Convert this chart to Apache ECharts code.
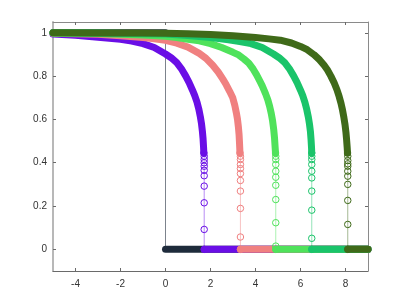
<!DOCTYPE html>
<html><head><meta charset="utf-8">
<script src="https://cdn.jsdelivr.net/npm/echarts@6/dist/echarts.min.js"></script>
<style>html,body{margin:0;padding:0;background:#fff}#c{width:407px;height:305px}</style>
</head><body><div id="c"></div>
<script>
// tick labels
const xTicks = [-4, -2, 0, 2, 4, 6, 8];
const yTicks = [0, 0.2, 0.4, 0.6, 0.8, 1];

// series colours (by name)
const seriesNames = ['step', 'purple', 'pink', 'lightgreen', 'green', 'darkgreen'];
const seriesColors = ['#1e2b3b', '#6a0ee6', '#f08080', '#4fe25b', '#1ac46a', '#3f6a19'];

// step series (1 for x<0, 0 for x>=0)
const stepX = [-5, 0];
const stepY = [1, 1];

// curve values
const purpleX = [-5, -4, -3, -2, -1.5, -1, -0.5, 0, 0.25, 0.5, 0.7, 0.9, 1.05, 1.2, 1.3, 1.4, 1.48, 1.55, 1.6, 1.64, 1.67, 1.69, 1.705];
const purpleY = [0.994, 0.989, 0.980, 0.970, 0.962, 0.950, 0.932, 0.902, 0.885, 0.862, 0.835, 0.800, 0.770, 0.735, 0.710, 0.680, 0.648, 0.612, 0.580, 0.545, 0.510, 0.475, 0.445];
const purpleDropY = [0.43, 0.415, 0.40, 0.384, 0.365, 0.34, 0.292, 0.215, 0.092, 0];

const pinkX = [-5, -4, -3, -2, -1, -0.5, 0, 0.5, 1.0, 1.5, 1.8, 2.1, 2.35, 2.55, 2.7, 2.85, 2.99, 3.08, 3.15, 3.2, 3.24, 3.27, 3.29, 3.31];
const pinkY = [0.998, 0.996, 0.993, 0.987, 0.978, 0.973, 0.965, 0.952, 0.934, 0.905, 0.882, 0.850, 0.818, 0.786, 0.760, 0.730, 0.700, 0.665, 0.630, 0.600, 0.565, 0.530, 0.490, 0.445];
const pinkDropY = [0.43, 0.415, 0.392, 0.373, 0.350, 0.318, 0.269, 0.189, 0.057, 0];

const lightGreenX = [-5, -3, -1, 0, 0.5, 1.0, 1.5, 2.0, 2.5, 3.0, 3.25, 3.5, 3.7, 3.9, 4.05, 4.2, 4.3, 4.45, 4.55, 4.63, 4.7, 4.76, 4.81, 4.845, 4.87, 4.89];
const lightGreenY = [0.999, 0.997, 0.990, 0.984, 0.978, 0.970, 0.963, 0.950, 0.932, 0.910, 0.898, 0.878, 0.860, 0.832, 0.806, 0.776, 0.755, 0.718, 0.690, 0.660, 0.628, 0.593, 0.553, 0.515, 0.475, 0.445];
const lightGreenDropY = [0.43, 0.415, 0.392, 0.361, 0.333, 0.296, 0.230, 0.123, 0.015, 0];

const greenX = [-5, -3, -1, 0, 1, 2, 2.8, 3.3, 3.8, 4.3, 4.8, 5.05, 5.3, 5.5, 5.7, 5.85, 6.0, 6.1, 6.2, 6.28, 6.35, 6.4, 6.44, 6.47, 6.49, 6.5];
const greenY = [1.0, 0.999, 0.996, 0.994, 0.988, 0.978, 0.968, 0.960, 0.950, 0.932, 0.902, 0.885, 0.862, 0.835, 0.800, 0.770, 0.735, 0.710, 0.678, 0.645, 0.610, 0.578, 0.545, 0.505, 0.470, 0.445];
const greenDropY = [0.43, 0.415, 0.392, 0.361, 0.330, 0.269, 0.181, 0.051, 0];

const darkGreenX = [-5, -3, -1, 0, 1, 2, 3, 4, 4.6, 5.1, 5.6, 6.0, 6.3, 6.6, 6.85, 7.05, 7.2, 7.35, 7.5, 7.62, 7.72, 7.8, 7.87, 7.93, 7.98, 8.02, 8.05, 8.075, 8.09];
const darkGreenY = [1.0, 0.9995, 0.999, 0.998, 0.996, 0.992, 0.986, 0.978, 0.972, 0.966, 0.953, 0.937, 0.922, 0.899, 0.875, 0.850, 0.828, 0.800, 0.768, 0.737, 0.705, 0.675, 0.642, 0.608, 0.575, 0.540, 0.505, 0.470, 0.445];
const darkGreenDropY = [0.43, 0.41, 0.395, 0.384, 0.361, 0.338, 0.30, 0.226, 0.115, 0];

// x where each series drops to zero, and where the zero plateau ends
const dropX = [0, 1.72, 3.33, 4.90, 6.50, 8.10];
const xEnd = 9;

const curvesX = [stepX, purpleX, pinkX, lightGreenX, greenX, darkGreenX];
const curvesY = [stepY, purpleY, pinkY, lightGreenY, greenY, darkGreenY];
const dropsY = [[], purpleDropY, pinkDropY, lightGreenDropY, greenDropY, darkGreenDropY];

const zip = (xs, ys) => xs.map((x, i) => [x, ys[i]]);

const series = [];
const BAND = 7;
seriesNames.forEach((name, i) => {
  const color = seriesColors[i];
  const base = 10 + i * 4;
  const curve = zip(curvesX[i], curvesY[i]);
  // dense marker band (upper part)
  series.push({
    name, type: 'line', data: curve, symbol: 'none', clip: false, z: base,
    lineStyle: { color, width: BAND, cap: 'round', join: 'round' }
  });
  // thin connecting line + sparse circles down to zero
  const last = curve[curve.length - 1];
  const drop = [last].concat(dropsY[i].map(y => [dropX[i], y]));
  if (i === 0) drop.push([dropX[0], 0]);
  series.push({
    name: name + '_drop', type: 'line', data: drop, clip: false, z: base + 1,
    symbol: i === 0 ? 'none' : 'circle', symbolSize: 6.5,
    itemStyle: { color: 'rgba(0,0,0,0)', borderColor: color, borderWidth: 1 },
    lineStyle: { color, width: i === 0 ? 0.9 : 0.8, opacity: i === 0 ? 0.65 : 0.6 }
  });
  // zero plateau band
  series.push({
    name: name + '_zero', type: 'line', data: [[dropX[i], 0], [xEnd, 0]], symbol: 'none', clip: false, z: base + 2,
    lineStyle: { color, width: BAND, cap: 'round' }
  });
});

const axisColor = '#6a6a6a';
const labelStyle = { color: '#333', fontSize: 10, fontFamily: 'Liberation Sans, Arial, sans-serif' };

const option = {
  animation: false,
  backgroundColor: '#fff',
  grid: { left: 53, right: 39, top: 22, bottom: 34, containLabel: false },
  xAxis: [
    { type: 'value', min: -5, max: 9, position: 'bottom',
      axisLine: { show: true, onZero: false, lineStyle: { color: axisColor, width: 1 } },
      axisTick: { show: true, inside: true, length: 3, customValues: xTicks, lineStyle: { color: axisColor } },
      axisLabel: Object.assign({ margin: 8, customValues: xTicks }, labelStyle),
      splitLine: { show: false } },
    { type: 'value', min: -5, max: 9, position: 'top',
      axisLine: { show: true, onZero: false, lineStyle: { color: '#8a8a8a', width: 1 } },
      axisTick: { show: true, inside: true, length: 3, customValues: xTicks, lineStyle: { color: axisColor } },
      axisLabel: { show: false }, splitLine: { show: false } }
  ],
  yAxis: [
    { type: 'value', min: -0.1, max: 1.05, position: 'left',
      axisLine: { show: true, onZero: false, lineStyle: { color: '#b8b8b8', width: 2 } },
      axisTick: { show: true, inside: true, length: 3, customValues: yTicks, lineStyle: { color: axisColor } },
      axisLabel: Object.assign({ margin: 6, customValues: yTicks }, labelStyle),
      splitLine: { show: false } },
    { type: 'value', min: -0.1, max: 1.05, position: 'right',
      axisLine: { show: true, onZero: false, lineStyle: { color: '#8a8a8a', width: 1 } },
      axisTick: { show: true, inside: true, length: 3, customValues: yTicks, lineStyle: { color: axisColor } },
      axisLabel: { show: false }, splitLine: { show: false } }
  ],
  series
};

const chart = echarts.init(document.getElementById('c'), null, { renderer: 'canvas' });
chart.setOption(option);
</script>
</body></html>
